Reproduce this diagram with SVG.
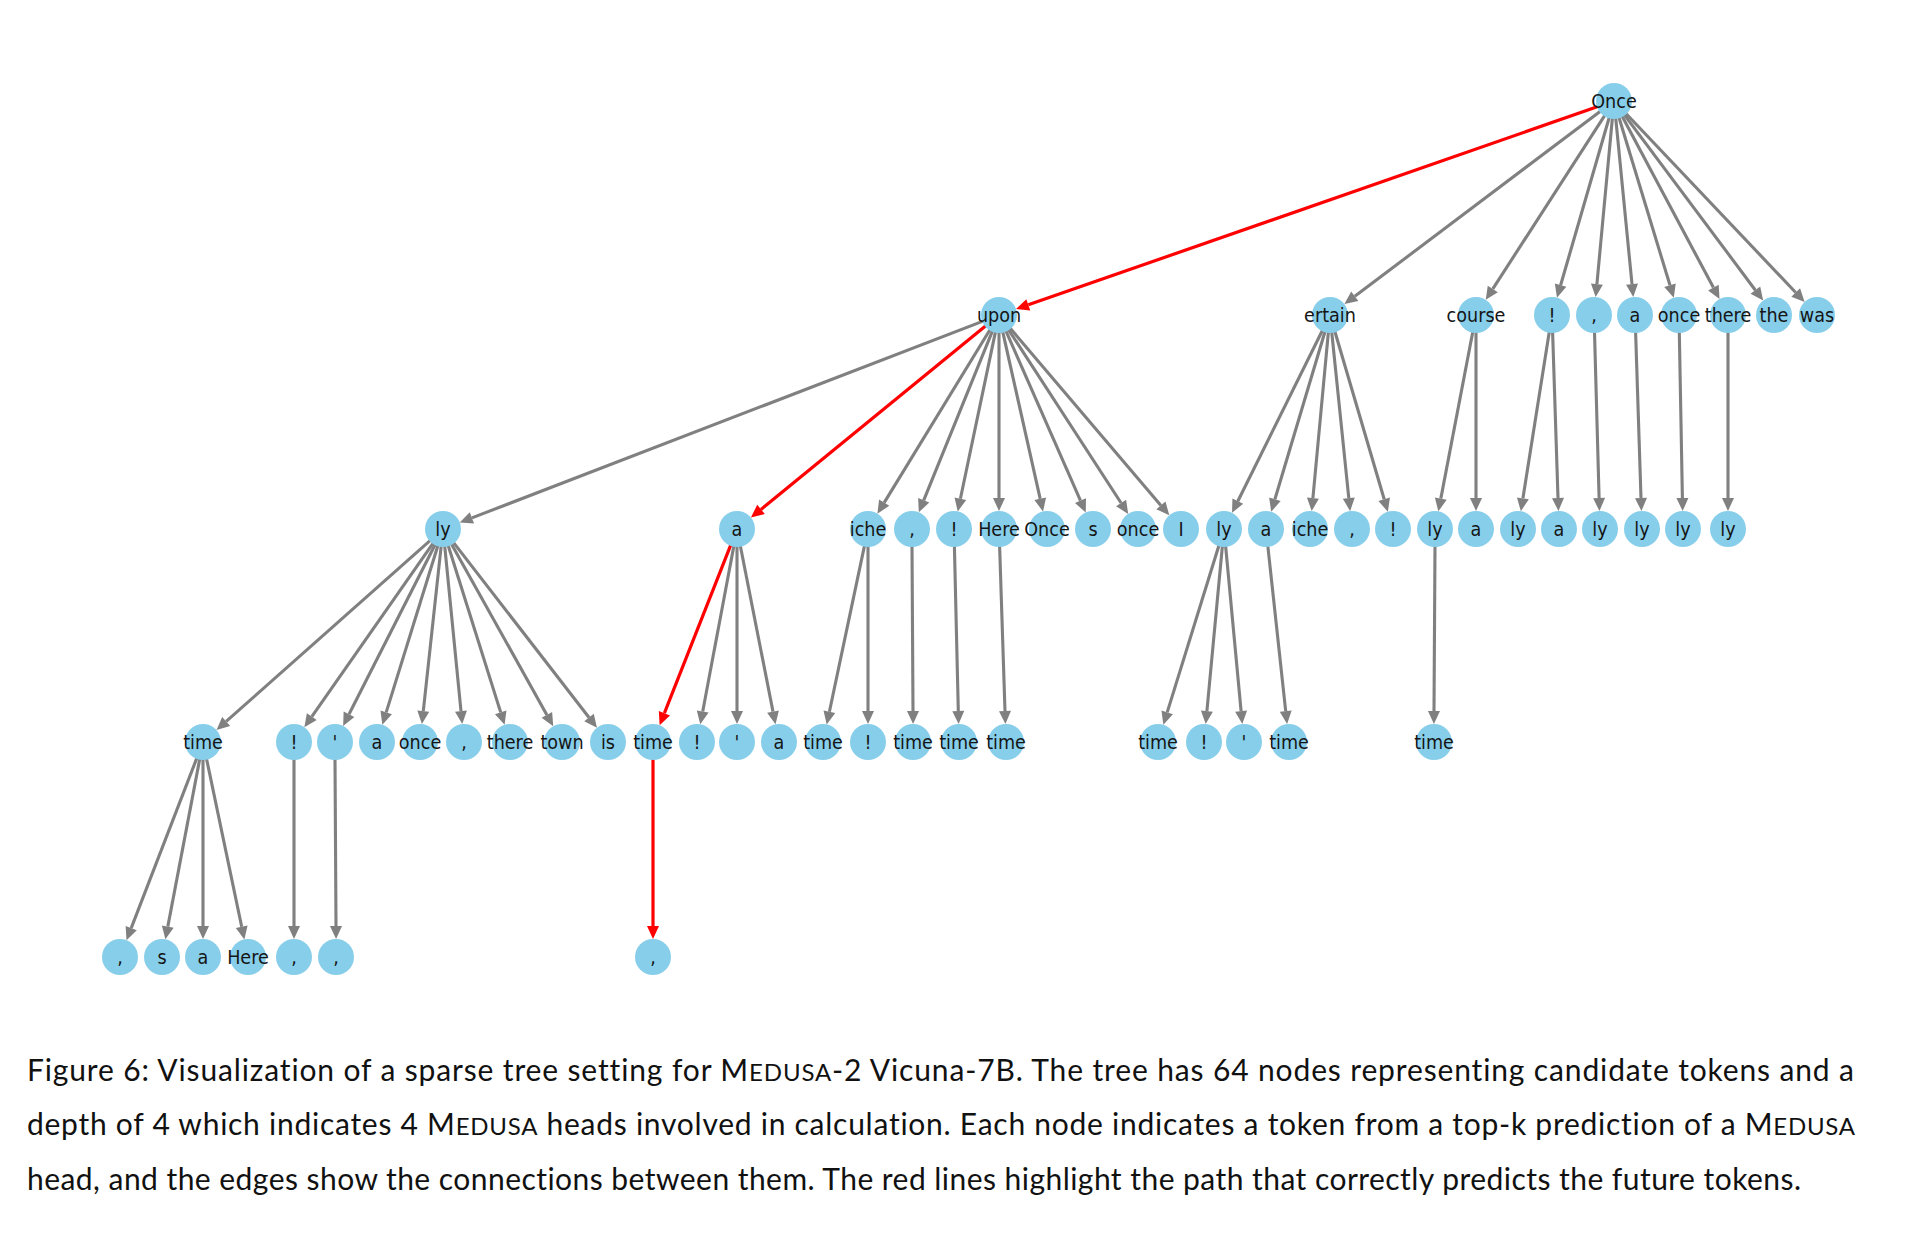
<svg xmlns="http://www.w3.org/2000/svg" width="1914" height="1240" viewBox="0 0 1914 1240">
<style>
.e{stroke:#808080;stroke-width:3.1;fill:none;marker-end:url(#ag)}
.r{stroke:#ff0000;stroke-width:3.2;fill:none;marker-end:url(#ar)}
.nd circle{fill:#87CEEB}
.nd text{font-family:"DejaVu Sans",sans-serif;font-size:20px;fill:#151515;text-anchor:middle;dominant-baseline:central}
.cap{font-family:Lato,"Liberation Sans",sans-serif;font-size:30px;fill:#111;font-variant-ligatures:none}
.sc{font-size:24px}
</style>
<defs>
<marker id="ag" markerUnits="userSpaceOnUse" markerWidth="13" markerHeight="12" refX="0" refY="6" orient="auto" overflow="visible"><path d="M0,0 L13,6 L0,12 z" fill="#808080"/></marker>
<marker id="ar" markerUnits="userSpaceOnUse" markerWidth="13" markerHeight="12" refX="0" refY="6" orient="auto" overflow="visible"><path d="M0,0 L13,6 L0,12 z" fill="#ff0000"/></marker>
</defs>
<rect width="1914" height="1240" fill="#ffffff"/>
<g id="edges">
<path class="r" d="M1597.9,106.6 L1028.3,304.8"/>
<path class="e" d="M1600.4,111.2 L1354.8,296.3"/>
<path class="e" d="M1604.8,115.3 L1492.8,288.9"/>
<path class="e" d="M1609.3,117.3 L1560.6,285.2"/>
<path class="e" d="M1612.4,117.9 L1596.9,284.1"/>
<path class="e" d="M1615.7,117.9 L1632.0,284.1"/>
<path class="e" d="M1618.9,117.3 L1670.0,285.3"/>
<path class="e" d="M1622.0,116.0 L1713.4,287.6"/>
<path class="e" d="M1624.2,114.6 L1755.4,290.2"/>
<path class="e" d="M1625.7,113.3 L1795.7,292.5"/>
<path class="e" d="M983.1,321.1 L471.9,517.9"/>
<path class="r" d="M985.8,325.8 L761.0,509.4"/>
<path class="e" d="M990.1,329.5 L884.2,502.6"/>
<path class="e" d="M992.6,330.7 L923.7,500.3"/>
<path class="e" d="M995.5,331.6 L960.4,498.7"/>
<path class="e" d="M999,332 L999,498"/>
<path class="e" d="M1002.7,331.6 L1040.2,498.8"/>
<path class="e" d="M1005.8,330.6 L1080.5,500.6"/>
<path class="e" d="M1008.3,329.3 L1121.1,503.0"/>
<path class="e" d="M1010.0,328.0 L1160.9,505.4"/>
<path class="e" d="M1322.5,330.2 L1237.8,501.2"/>
<path class="e" d="M1325.1,331.3 L1274.9,499.3"/>
<path class="e" d="M1328.4,331.9 L1312.9,498.1"/>
<path class="e" d="M1331.7,331.9 L1348.8,498.2"/>
<path class="e" d="M1334.8,331.3 L1384.2,499.3"/>
<path class="e" d="M1472.8,331.7 L1440.8,498.6"/>
<path class="e" d="M1476,332 L1476,498"/>
<path class="e" d="M1549.3,331.8 L1522.9,498.4"/>
<path class="e" d="M1552.6,332 L1558.0,498"/>
<path class="e" d="M1594.5,332 L1599.1,498"/>
<path class="e" d="M1635.6,332 L1641.0,498"/>
<path class="e" d="M1679.3,332 L1682.4,498"/>
<path class="e" d="M1728,332 L1728,498"/>
<path class="e" d="M430.3,540.3 L226.2,721.4"/>
<path class="e" d="M433.3,542.9 L311.8,716.6"/>
<path class="e" d="M435.3,544.2 L349.0,714.3"/>
<path class="e" d="M438.0,545.2 L386.2,712.4"/>
<path class="e" d="M441.2,545.9 L423.3,711.2"/>
<path class="e" d="M444.7,545.9 L461.0,711.1"/>
<path class="e" d="M448.1,545.2 L500.7,712.4"/>
<path class="e" d="M451.3,543.8 L546.9,714.9"/>
<path class="e" d="M453.4,542.4 L589.0,717.5"/>
<path class="r" d="M730.8,544.8 L664.4,713.2"/>
<path class="e" d="M733.9,545.7 L702.7,711.5"/>
<path class="e" d="M737,546 L737,711"/>
<path class="e" d="M740.3,545.7 L773.0,711.6"/>
<path class="e" d="M864.5,545.6 L829.4,711.7"/>
<path class="e" d="M868,546 L868,711"/>
<path class="e" d="M912,546 L913,711"/>
<path class="e" d="M954.4,546 L958.3,711"/>
<path class="e" d="M999.6,546 L1005.0,711"/>
<path class="e" d="M1219.0,545.2 L1167.2,712.4"/>
<path class="e" d="M1222.4,545.9 L1206.9,711.1"/>
<path class="e" d="M1225.6,545.9 L1241.1,711.1"/>
<path class="e" d="M1267.8,545.9 L1285.7,711.2"/>
<path class="e" d="M1435,546 L1434,711"/>
<path class="e" d="M196.9,757.9 L131.2,928.1"/>
<path class="e" d="M199.8,758.7 L167.8,926.6"/>
<path class="e" d="M203,759 L203,926"/>
<path class="e" d="M206.5,758.6 L241.7,926.7"/>
<path class="e" d="M294,759 L294,926"/>
<path class="e" d="M335,759 L336,926"/>
<path class="r" d="M653,759 L653,926"/>
</g>
<g id="nodes">
<g id="n-once" class="nd"><circle cx="1614" cy="101" r="18"/><text transform="matrix(0.88 0 0 1 1614 101)">Once</text></g>
<g id="n-upon" class="nd"><circle cx="999" cy="315" r="18"/><text transform="matrix(0.88 0 0 1 999 315)">upon</text></g>
<g id="n-ertain" class="nd"><circle cx="1330" cy="315" r="18"/><text transform="matrix(0.88 0 0 1 1330 315)">ertain</text></g>
<g id="n-course" class="nd"><circle cx="1476" cy="315" r="18"/><text transform="matrix(0.88 0 0 1 1476 315)">course</text></g>
<g id="n1-excl" class="nd"><circle cx="1552" cy="315" r="18"/><text transform="matrix(0.88 0 0 1 1552 315)">!</text></g>
<g id="n1-comma" class="nd"><circle cx="1594" cy="315" r="18"/><text transform="matrix(0.88 0 0 1 1594 315)">,</text></g>
<g id="n1-a" class="nd"><circle cx="1635" cy="315" r="18"/><text transform="matrix(0.88 0 0 1 1635 315)">a</text></g>
<g id="n1-once" class="nd"><circle cx="1679" cy="315" r="18"/><text transform="matrix(0.88 0 0 1 1679 315)">once</text></g>
<g id="n1-there" class="nd"><circle cx="1728" cy="315" r="18"/><text transform="matrix(0.88 0 0 1 1728 315)">there</text></g>
<g id="n1-the" class="nd"><circle cx="1774" cy="315" r="18"/><text transform="matrix(0.88 0 0 1 1774 315)">the</text></g>
<g id="n1-was" class="nd"><circle cx="1817" cy="315" r="18"/><text transform="matrix(0.88 0 0 1 1817 315)">was</text></g>
<g id="n2-ly-a" class="nd"><circle cx="443" cy="529" r="18"/><text transform="matrix(0.88 0 0 1 443 529)">ly</text></g>
<g id="n2-a-a" class="nd"><circle cx="737" cy="529" r="18"/><text transform="matrix(0.88 0 0 1 737 529)">a</text></g>
<g id="n2-iche-a" class="nd"><circle cx="868" cy="529" r="18"/><text transform="matrix(0.88 0 0 1 868 529)">iche</text></g>
<g id="n2-comma-a" class="nd"><circle cx="912" cy="529" r="18"/><text transform="matrix(0.88 0 0 1 912 529)">,</text></g>
<g id="n2-excl-a" class="nd"><circle cx="954" cy="529" r="18"/><text transform="matrix(0.88 0 0 1 954 529)">!</text></g>
<g id="n2-here" class="nd"><circle cx="999" cy="529" r="18"/><text transform="matrix(0.88 0 0 1 999 529)">Here</text></g>
<g id="n2-Once" class="nd"><circle cx="1047" cy="529" r="18"/><text transform="matrix(0.88 0 0 1 1047 529)">Once</text></g>
<g id="n2-s" class="nd"><circle cx="1093" cy="529" r="18"/><text transform="matrix(0.88 0 0 1 1093 529)">s</text></g>
<g id="n2-once" class="nd"><circle cx="1138" cy="529" r="18"/><text transform="matrix(0.88 0 0 1 1138 529)">once</text></g>
<g id="n2-I" class="nd"><circle cx="1181" cy="529" r="18"/><text transform="matrix(0.88 0 0 1 1181 529)">I</text></g>
<g id="n2-ly-b" class="nd"><circle cx="1224" cy="529" r="18"/><text transform="matrix(0.88 0 0 1 1224 529)">ly</text></g>
<g id="n2-a-b" class="nd"><circle cx="1266" cy="529" r="18"/><text transform="matrix(0.88 0 0 1 1266 529)">a</text></g>
<g id="n2-iche-b" class="nd"><circle cx="1310" cy="529" r="18"/><text transform="matrix(0.88 0 0 1 1310 529)">iche</text></g>
<g id="n2-comma-b" class="nd"><circle cx="1352" cy="529" r="18"/><text transform="matrix(0.88 0 0 1 1352 529)">,</text></g>
<g id="n2-excl-b" class="nd"><circle cx="1393" cy="529" r="18"/><text transform="matrix(0.88 0 0 1 1393 529)">!</text></g>
<g id="n2-ly-c" class="nd"><circle cx="1435" cy="529" r="18"/><text transform="matrix(0.88 0 0 1 1435 529)">ly</text></g>
<g id="n2-a-c" class="nd"><circle cx="1476" cy="529" r="18"/><text transform="matrix(0.88 0 0 1 1476 529)">a</text></g>
<g id="n2-ly-d" class="nd"><circle cx="1518" cy="529" r="18"/><text transform="matrix(0.88 0 0 1 1518 529)">ly</text></g>
<g id="n2-a-d" class="nd"><circle cx="1559" cy="529" r="18"/><text transform="matrix(0.88 0 0 1 1559 529)">a</text></g>
<g id="n2-ly-e" class="nd"><circle cx="1600" cy="529" r="18"/><text transform="matrix(0.88 0 0 1 1600 529)">ly</text></g>
<g id="n2-ly-f" class="nd"><circle cx="1642" cy="529" r="18"/><text transform="matrix(0.88 0 0 1 1642 529)">ly</text></g>
<g id="n2-ly-g" class="nd"><circle cx="1683" cy="529" r="18"/><text transform="matrix(0.88 0 0 1 1683 529)">ly</text></g>
<g id="n2-ly-h" class="nd"><circle cx="1728" cy="529" r="18"/><text transform="matrix(0.88 0 0 1 1728 529)">ly</text></g>
<g id="n3-time-a" class="nd"><circle cx="203" cy="742" r="18"/><text transform="matrix(0.88 0 0 1 203 742)">time</text></g>
<g id="n3-excl-a" class="nd"><circle cx="294" cy="742" r="18"/><text transform="matrix(0.88 0 0 1 294 742)">!</text></g>
<g id="n3-apos-a" class="nd"><circle cx="335" cy="742" r="18"/><text transform="matrix(0.88 0 0 1 335 742)">'</text></g>
<g id="n3-a-a" class="nd"><circle cx="377" cy="742" r="18"/><text transform="matrix(0.88 0 0 1 377 742)">a</text></g>
<g id="n3-once" class="nd"><circle cx="420" cy="742" r="18"/><text transform="matrix(0.88 0 0 1 420 742)">once</text></g>
<g id="n3-comma" class="nd"><circle cx="464" cy="742" r="18"/><text transform="matrix(0.88 0 0 1 464 742)">,</text></g>
<g id="n3-there" class="nd"><circle cx="510" cy="742" r="18"/><text transform="matrix(0.88 0 0 1 510 742)">there</text></g>
<g id="n3-town" class="nd"><circle cx="562" cy="742" r="18"/><text transform="matrix(0.88 0 0 1 562 742)">town</text></g>
<g id="n3-is" class="nd"><circle cx="608" cy="742" r="18"/><text transform="matrix(0.88 0 0 1 608 742)">is</text></g>
<g id="n3-time-b" class="nd"><circle cx="653" cy="742" r="18"/><text transform="matrix(0.88 0 0 1 653 742)">time</text></g>
<g id="n3-excl-b" class="nd"><circle cx="697" cy="742" r="18"/><text transform="matrix(0.88 0 0 1 697 742)">!</text></g>
<g id="n3-apos-b" class="nd"><circle cx="737" cy="742" r="18"/><text transform="matrix(0.88 0 0 1 737 742)">'</text></g>
<g id="n3-a-b" class="nd"><circle cx="779" cy="742" r="18"/><text transform="matrix(0.88 0 0 1 779 742)">a</text></g>
<g id="n3-time-c" class="nd"><circle cx="823" cy="742" r="18"/><text transform="matrix(0.88 0 0 1 823 742)">time</text></g>
<g id="n3-excl-c" class="nd"><circle cx="868" cy="742" r="18"/><text transform="matrix(0.88 0 0 1 868 742)">!</text></g>
<g id="n3-time-d" class="nd"><circle cx="913" cy="742" r="18"/><text transform="matrix(0.88 0 0 1 913 742)">time</text></g>
<g id="n3-time-e" class="nd"><circle cx="959" cy="742" r="18"/><text transform="matrix(0.88 0 0 1 959 742)">time</text></g>
<g id="n3-time-f" class="nd"><circle cx="1006" cy="742" r="18"/><text transform="matrix(0.88 0 0 1 1006 742)">time</text></g>
<g id="n3-time-g" class="nd"><circle cx="1158" cy="742" r="18"/><text transform="matrix(0.88 0 0 1 1158 742)">time</text></g>
<g id="n3-excl-d" class="nd"><circle cx="1204" cy="742" r="18"/><text transform="matrix(0.88 0 0 1 1204 742)">!</text></g>
<g id="n3-apos-c" class="nd"><circle cx="1244" cy="742" r="18"/><text transform="matrix(0.88 0 0 1 1244 742)">'</text></g>
<g id="n3-time-h" class="nd"><circle cx="1289" cy="742" r="18"/><text transform="matrix(0.88 0 0 1 1289 742)">time</text></g>
<g id="n3-time-i" class="nd"><circle cx="1434" cy="742" r="18"/><text transform="matrix(0.88 0 0 1 1434 742)">time</text></g>
<g id="n4-comma-a" class="nd"><circle cx="120" cy="957" r="18"/><text transform="matrix(0.88 0 0 1 120 957)">,</text></g>
<g id="n4-s" class="nd"><circle cx="162" cy="957" r="18"/><text transform="matrix(0.88 0 0 1 162 957)">s</text></g>
<g id="n4-a" class="nd"><circle cx="203" cy="957" r="18"/><text transform="matrix(0.88 0 0 1 203 957)">a</text></g>
<g id="n4-here" class="nd"><circle cx="248" cy="957" r="18"/><text transform="matrix(0.88 0 0 1 248 957)">Here</text></g>
<g id="n4-comma-b" class="nd"><circle cx="294" cy="957" r="18"/><text transform="matrix(0.88 0 0 1 294 957)">,</text></g>
<g id="n4-comma-c" class="nd"><circle cx="336" cy="957" r="18"/><text transform="matrix(0.88 0 0 1 336 957)">,</text></g>
<g id="n4-comma-d" class="nd"><circle cx="653" cy="957" r="18"/><text transform="matrix(0.88 0 0 1 653 957)">,</text></g>
</g>
<g id="caption">
<text class="cap" x="27" y="1081" textLength="1827" lengthAdjust="spacing">Figure 6: Visualization of a sparse tree setting for M<tspan class="sc">EDUSA</tspan>-2 Vicuna-7B. The tree has 64 nodes representing candidate tokens and a</text>
<text class="cap" x="27" y="1135" textLength="1828" lengthAdjust="spacing">depth of 4 which indicates 4 M<tspan class="sc">EDUSA</tspan> heads involved in calculation. Each node indicates a token from a top-k prediction of a M<tspan class="sc">EDUSA</tspan></text>
<text class="cap" x="27" y="1190" textLength="1774" lengthAdjust="spacing">head, and the edges show the connections between them. The red lines highlight the path that correctly predicts the future tokens.</text>
</g>
</svg>
